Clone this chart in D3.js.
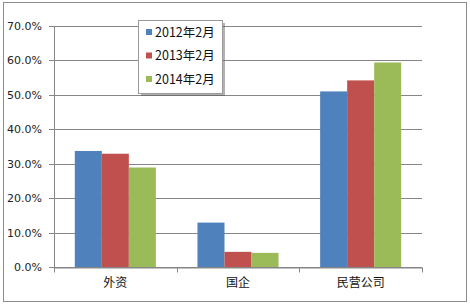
<!DOCTYPE html>
<html>
<head>
<meta charset="utf-8">
<script src="https://cdn.jsdelivr.net/npm/d3@7/dist/d3.min.js"></script>
<style>
  body { margin: 0; background: #fff; }
  svg { display: block; }
  text { font-family: "DejaVu Sans", Verdana, sans-serif; }
</style>
</head>
<body>
<svg></svg>
<script>
var WIDTH = 470;
var HEIGHT = 308;

var categories = ["外资", "国企", "民营公司"];
var seriesNames = ["2012年2月", "2013年2月", "2014年2月"];
var seriesColors = ["#4F81BD", "#C0504D", "#9BBB59"];
var values2012 = [33.7, 12.9, 51.0];
var values2013 = [32.9, 4.4, 54.2];
var values2014 = [28.9, 4.1, 59.4];
var yTicks = [0, 10, 20, 30, 40, 50, 60, 70];

var seriesValues = [values2012, values2013, values2014];

var svg = d3.select("svg")
    .attr("width", WIDTH)
    .attr("height", HEIGHT);

// outer chart border
svg.append("rect")
    .attr("x", 3.5).attr("y", 2.5)
    .attr("width", 463).attr("height", 299)
    .attr("fill", "#fff")
    .attr("stroke", "#8c8c8c");

var margin = {left: 54, right: 48, top: 26, bottom: 41};

var x = d3.scaleBand()
    .domain(categories)
    .range([margin.left, WIDTH - margin.right])
    .paddingInner(0)
    .paddingOuter(0);

var xInner = d3.scaleBand()
    .domain(seriesNames)
    .range([0, x.bandwidth()])
    .paddingInner(0)
    .paddingOuter(0.77);

var y = d3.scaleLinear()
    .domain([0, 70])
    .range([HEIGHT - margin.bottom, margin.top]);

// gridlines
svg.append("g")
    .selectAll("line")
    .data(yTicks)
    .enter()
    .append("line")
    .attr("x1", margin.left - 5)
    .attr("x2", WIDTH - margin.right)
    .attr("y1", function(d) { return Math.round(y(d)) + 0.5; })
    .attr("y2", function(d) { return Math.round(y(d)) + 0.5; })
    .attr("stroke", "#868686");

// y axis labels
svg.append("g")
    .selectAll("text")
    .data(yTicks)
    .enter()
    .append("text")
    .attr("x", margin.left - 12)
    .attr("y", function(d) { return y(d) + 4; })
    .attr("text-anchor", "end")
    .attr("font-size", 11)
    .attr("fill", "#222")
    .text(function(d) { return d.toFixed(1) + "%"; });

// bars
var groups = svg.append("g")
    .selectAll("g")
    .data(categories)
    .enter()
    .append("g")
    .attr("transform", function(d) { return "translate(" + x(d) + ",0)"; });

groups.selectAll("rect")
    .data(function(d, i) {
        return seriesNames.map(function(s, j) {
            return {series: s, value: seriesValues[j][i], color: seriesColors[j]};
        });
    })
    .enter()
    .append("rect")
    .attr("x", function(d) { return xInner(d.series); })
    .attr("width", xInner.bandwidth())
    .attr("y", function(d) { return y(d.value); })
    .attr("height", function(d) { return y(0) - y(d.value); })
    .attr("fill", function(d) { return d.color; });

// y axis line
svg.append("line")
    .attr("x1", margin.left + 0.5).attr("x2", margin.left + 0.5)
    .attr("y1", y(70)).attr("y2", y(0))
    .attr("stroke", "#868686");

// x axis
var xAxis = d3.axisBottom(x)
    .tickSize(0)
    .tickPadding(11);

var gx = svg.append("g")
    .attr("transform", "translate(0," + (Math.round(y(0)) + 0.5) + ")")
    .call(xAxis);
gx.select(".domain").attr("stroke", "#868686");
gx.selectAll("text")
    .attr("font-size", 12)
    .attr("fill", "#111")
    .style("font-family", "'Noto Sans CJK SC', sans-serif");

// x tick marks at band boundaries
var boundaries = [margin.left].concat(categories.map(function(c) { return x(c) + x.bandwidth(); }));
gx.selectAll("line.bt")
    .data(boundaries)
    .enter()
    .append("line")
    .attr("class", "bt")
    .attr("x1", function(d) { return Math.round(d) + 0.5; })
    .attr("x2", function(d) { return Math.round(d) + 0.5; })
    .attr("y1", 0).attr("y2", 5)
    .attr("stroke", "#868686");

// legend
var legend = svg.append("g").attr("transform", "translate(138,20)");
legend.append("rect")
    .attr("x", 3).attr("y", 3)
    .attr("width", 84).attr("height", 73)
    .attr("fill", "#555")
    .attr("opacity", 0.45);
legend.append("rect")
    .attr("x", 0.5).attr("y", 0.5)
    .attr("width", 84).attr("height", 73)
    .attr("fill", "#fff")
    .attr("stroke", "#9a9a9a");

var items = legend.selectAll("g.item")
    .data(seriesNames)
    .enter()
    .append("g")
    .attr("class", "item")
    .attr("transform", function(d, i) { return "translate(0," + (12 + i * 23.5) + ")"; });

items.append("rect")
    .attr("x", 8).attr("y", -3)
    .attr("width", 6).attr("height", 6)
    .attr("fill", function(d, i) { return seriesColors[i]; });

items.append("text")
    .attr("x", 17)
    .attr("y", 4.5)
    .attr("font-size", 12.5)
    .attr("fill", "#111")
    .style("font-family", "'Noto Sans CJK SC', sans-serif")
    .text(function(d) { return d; });
</script>
</body>
</html>
